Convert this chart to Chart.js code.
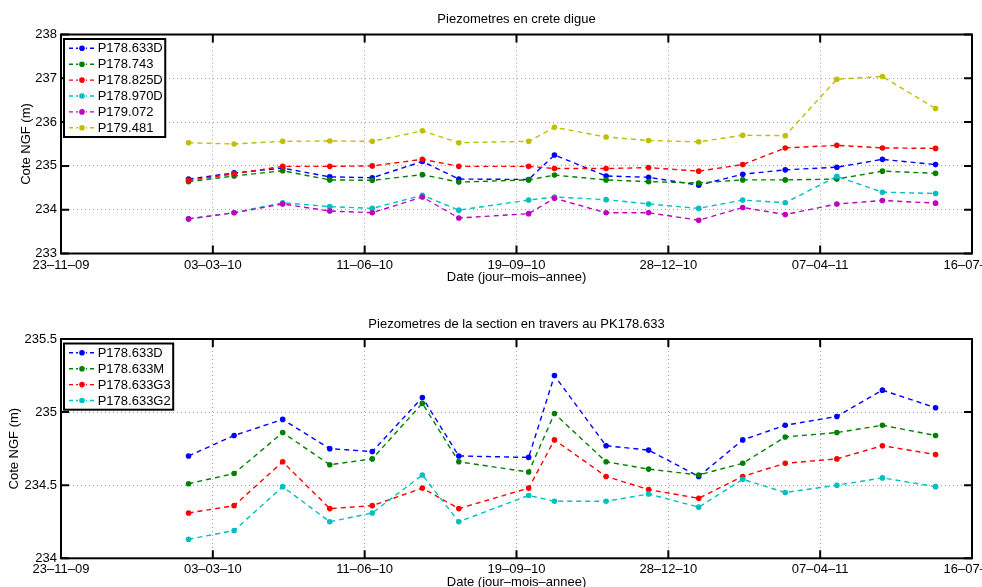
<!DOCTYPE html>
<html>
<head>
<meta charset="utf-8">
<script src="https://cdn.jsdelivr.net/npm/chart.js@4.4.1/dist/chart.umd.min.js"></script>
<style>
  body { margin: 0; background: #fff; }
  canvas { position: absolute; left: 0; }
  #topChart { top: 0; }
  #bottomChart { top: 293px; }
</style>
</head>
<body>
<canvas id="topChart" width="982" height="293"></canvas>
<canvas id="bottomChart" width="982" height="294"></canvas>
<script>
// measurement dates (same for both plots)
const dates = [
    '2010-02-15', '2010-03-17', '2010-04-18', '2010-05-19', '2010-06-16', '2010-07-19',
    '2010-08-12', '2010-09-27', '2010-10-14', '2010-11-17', '2010-12-15', '2011-01-17',
    '2011-02-15', '2011-03-15', '2011-04-18', '2011-05-18', '2011-06-22'
];
const xTickDates = ['2009-11-23', '2010-03-03', '2010-06-11', '2010-09-19', '2010-12-28', '2011-04-07', '2011-07-16'];
const topYTicks = [233, 234, 235, 236, 237, 238];
const bottomYTicks = [234, 234.5, 235, 235.5];

// Piezometres en crete digue
const p178_633D = [234.70, 234.84, 234.95, 234.75, 234.73, 235.10, 234.70, 234.69, 235.25, 234.77, 234.74, 234.56, 234.81, 234.91, 234.97, 235.15, 235.03];
const p178_743 = [234.64, 234.77, 234.89, 234.68, 234.67, 234.80, 234.63, 234.68, 234.79, 234.68, 234.64, 234.61, 234.68, 234.68, 234.70, 234.88, 234.83];
const p178_825D = [234.67, 234.82, 234.99, 234.99, 235.00, 235.15, 234.99, 234.99, 234.94, 234.94, 234.96, 234.88, 235.03, 235.41, 235.47, 235.41, 235.40];
const p178_970D = [233.79, 233.93, 234.16, 234.07, 234.03, 234.33, 233.99, 234.22, 234.29, 234.23, 234.13, 234.03, 234.22, 234.16, 234.76, 234.40, 234.37];
const p179_072 = [233.79, 233.93, 234.13, 233.97, 233.93, 234.29, 233.81, 233.91, 234.26, 233.93, 233.93, 233.76, 234.05, 233.89, 234.13, 234.21, 234.15];
const p179_481 = [235.53, 235.50, 235.56, 235.57, 235.56, 235.80, 235.53, 235.56, 235.88, 235.66, 235.58, 235.55, 235.70, 235.69, 236.98, 237.04, 236.31];

// Piezometres de la section en travers au PK178.633
const p178_633M = [234.51, 234.58, 234.86, 234.64, 234.68, 235.06, 234.66, 234.59, 234.99, 234.66, 234.61, 234.57, 234.65, 234.83, 234.86, 234.91, 234.84];
const p178_633G3 = [234.31, 234.36, 234.66, 234.34, 234.36, 234.48, 234.34, 234.48, 234.81, 234.56, 234.47, 234.41, 234.56, 234.65, 234.68, 234.77, 234.71];
const p178_633G2 = [234.13, 234.19, 234.49, 234.25, 234.31, 234.57, 234.25, 234.43, 234.39, 234.39, 234.44, 234.35, 234.54, 234.45, 234.50, 234.55, 234.49];

const FONT = '13px "Liberation Sans", Arial, sans-serif';
const toTime = s => Date.parse(s + 'T00:00:00Z');
const fmtDate = v => {
    const d = new Date(v);
    const p = n => String(n).padStart(2, '0');
    return `${p(d.getUTCDate())}\u2013${p(d.getUTCMonth() + 1)}\u2013${p(d.getUTCFullYear() % 100)}`;
};

function series(label, values, color, i) {
    return {
        label,
        data: values.map((v, k) => ({ x: toTime(dates[k]), y: v })),
        borderColor: color,
        backgroundColor: color,
        borderWidth: 1.4,
        borderDash: [5, 4],
        pointRadius: 2.8,
        pointBorderWidth: 0,
        pointHoverRadius: 2.8,
        tension: 0,
        order: -i
    };
}

// frame, inward ticks, titles and legend box in the matlab look
const matlabPlugin = {
    id: 'matlab',
    afterDraw(chart, args, opts) {
        const { ctx, chartArea: a, scales: { x, y } } = chart;
        ctx.save();
        ctx.setLineDash([]);
        ctx.strokeStyle = '#000';
        ctx.lineWidth = 2;
        ctx.beginPath();
        x.ticks.forEach(t => {
            const px = x.getPixelForValue(t.value);
            ctx.moveTo(px, a.bottom); ctx.lineTo(px, a.bottom - 8);
            ctx.moveTo(px, a.top); ctx.lineTo(px, a.top + 8);
        });
        y.ticks.forEach(t => {
            const py = y.getPixelForValue(t.value);
            ctx.moveTo(a.left, py); ctx.lineTo(a.left + 8, py);
            ctx.moveTo(a.right, py); ctx.lineTo(a.right - 8, py);
        });
        ctx.stroke();
        ctx.strokeRect(a.left, a.top, a.right - a.left, a.bottom - a.top);

        ctx.fillStyle = '#000';
        ctx.font = FONT;
        ctx.textAlign = 'center';
        ctx.textBaseline = 'middle';
        const cx = (a.left + a.right) / 2;
        ctx.fillText(opts.title, cx, a.top - 15);
        ctx.fillText('Date (jour\u2013mois\u2013annee)', cx, a.bottom + 24);
        ctx.save();
        ctx.translate(opts.yTitleX, (a.top + a.bottom) / 2);
        ctx.rotate(-Math.PI / 2);
        ctx.fillText('Cote NGF (m)', 0, 0);
        ctx.restore();

        // legend
        const sets = chart.data.datasets;
        const textW = Math.max(...sets.map(d => ctx.measureText(d.label).width));
        const bx = a.left + 3, by = a.top + 4.5;
        const rowH = 15.9;
        const bw = 33.7 + textW + 2.5, bh = sets.length * rowH + 2.6;
        ctx.fillStyle = '#fff';
        ctx.fillRect(bx, by, bw, bh);
        ctx.strokeRect(bx, by, bw, bh);
        sets.forEach((d, i) => {
            const ry = by + 9.3 + i * rowH;
            ctx.strokeStyle = d.borderColor;
            ctx.lineWidth = 1.4;
            ctx.setLineDash([4, 3]);
            ctx.beginPath();
            ctx.moveTo(bx + 5, ry); ctx.lineTo(bx + 31, ry);
            ctx.stroke();
            ctx.setLineDash([]);
            ctx.fillStyle = '#fff';
            ctx.fillRect(bx + 14, ry - 3, 8, 6);
            ctx.fillStyle = d.borderColor;
            ctx.beginPath();
            ctx.arc(bx + 18, ry, 2.8, 0, Math.PI * 2);
            ctx.fill();
            ctx.fillStyle = '#000';
            ctx.textAlign = 'left';
            ctx.fillText(d.label, bx + 33.7, ry + 0.5);
        });
        ctx.restore();
    }
};

function makeChart(canvasId, datasets, yTicks, o) {
    return new Chart(document.getElementById(canvasId), {
        type: 'line',
        data: { datasets },
        plugins: [matlabPlugin],
        options: {
            responsive: false,
            animation: false,
            devicePixelRatio: 1,
            layout: { padding: { top: o.top, left: 0, right: 10, bottom: 0 } },
            plugins: {
                legend: { display: false },
                title: { display: false },
                tooltip: { enabled: false },
                matlab: { title: o.title, yTitleX: o.yTitleX }
            },
            scales: {
                x: {
                    type: 'linear',
                    min: toTime(xTickDates[0]),
                    max: toTime(xTickDates[xTickDates.length - 1]),
                    afterBuildTicks: s => { s.ticks = xTickDates.map(d => ({ value: toTime(d) })); },
                    afterFit: s => { s.height = o.xHeight; s.paddingLeft = 0; s.paddingRight = 0; },
                    ticks: {
                        autoSkip: false, maxRotation: 0, minRotation: 0, padding: o.xPad,
                        color: '#000', font: { family: '"Liberation Sans", Arial, sans-serif', size: 13 },
                        callback: v => fmtDate(v)
                    },
                    grid: { color: '#a0a0a0', lineWidth: 1, drawTicks: false },
                    border: { display: false, dash: [1, 3] }
                },
                y: {
                    min: yTicks[0],
                    max: yTicks[yTicks.length - 1],
                    afterBuildTicks: s => { s.ticks = yTicks.map(v => ({ value: v })); },
                    afterFit: s => { s.width = 61; s.paddingTop = 0; s.paddingBottom = 0; },
                    ticks: {
                        padding: 4, color: '#000',
                        font: { family: '"Liberation Sans", Arial, sans-serif', size: 13 },
                        callback: v => String(v)
                    },
                    grid: { color: '#a0a0a0', lineWidth: 1, drawTicks: false },
                    border: { display: false, dash: [1, 3] }
                }
            }
        }
    });
}

makeChart('topChart', [
    series('P178.633D', p178_633D, '#0000ff', 0),
    series('P178.743', p178_743, '#008000', 1),
    series('P178.825D', p178_825D, '#ff0000', 2),
    series('P178.970D', p178_970D, '#00bfbf', 3),
    series('P179.072', p179_072, '#bf00bf', 4),
    series('P179.481', p179_481, '#bfbf00', 5)
], topYTicks, { top: 34.5, xHeight: 39.5, xPad: 4.5, title: 'Piezometres en crete digue', yTitleX: 26 });

makeChart('bottomChart', [
    series('P178.633D', p178_633D, '#0000ff', 0),
    series('P178.633M', p178_633M, '#008000', 1),
    series('P178.633G3', p178_633G3, '#ff0000', 2),
    series('P178.633G2', p178_633G2, '#00bfbf', 3)
], bottomYTicks, { top: 46, xHeight: 28.7, xPad: 3, title: 'Piezometres de la section en travers au PK178.633', yTitleX: 14 });
</script>
</body>
</html>
